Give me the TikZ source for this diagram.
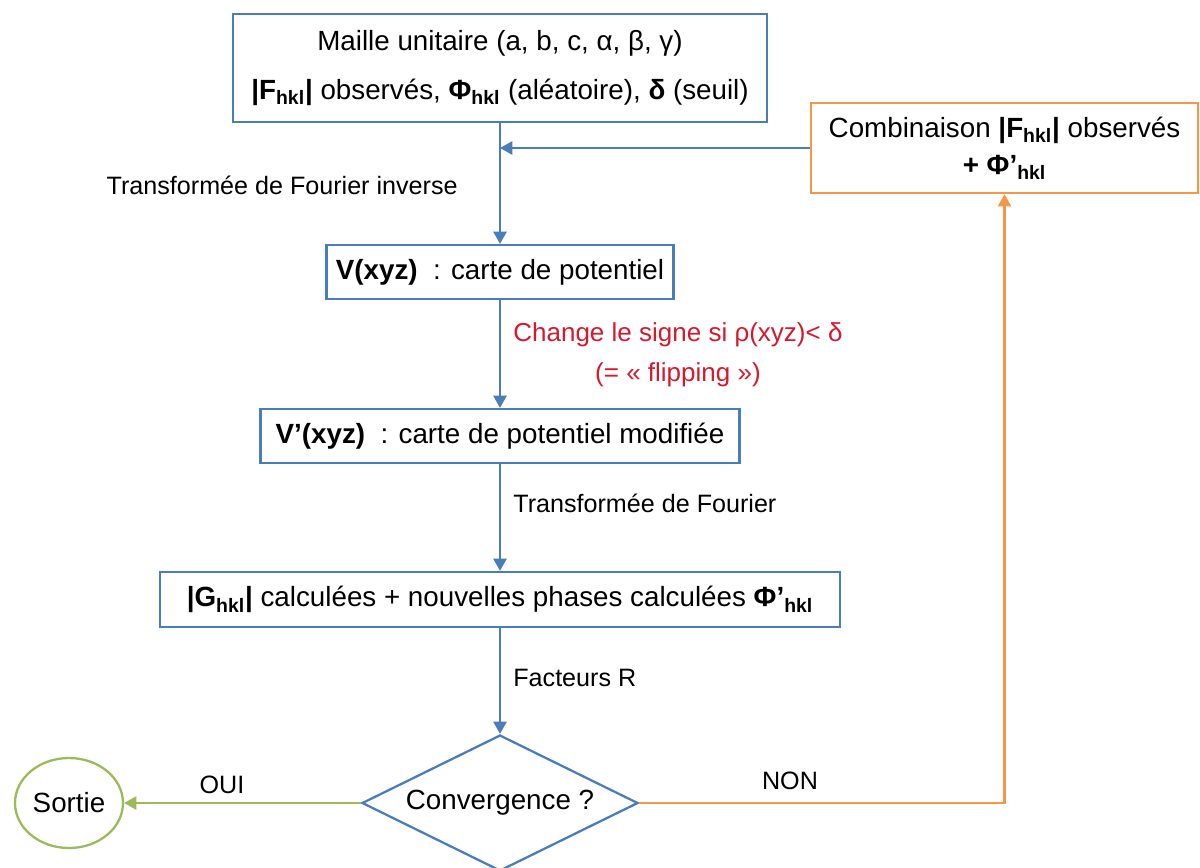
\documentclass[tikz,border=0pt]{standalone}
\usepackage{fontspec}
\setmainfont{Liberation Sans}
\usetikzlibrary{arrows.meta,shapes.geometric}
\definecolor{boxblue}{RGB}{74,126,187}
\definecolor{loopor}{RGB}{247,150,70}
\definecolor{exitgreen}{RGB}{155,187,89}
\definecolor{flipred}{RGB}{215,25,45}

\begin{document}
\begin{tikzpicture}[
		boite/.style={draw=boxblue,line width=1.3pt,inner sep=0pt,align=center,font=\fontsize{15.8}{19}\selectfont},
		fleche/.style={-{Triangle[width=7.5pt,length=7pt]},line width=1.3pt},
		etiq/.style={inner sep=0pt,font=\fontsize{14.3}{17}\selectfont}]
		\useasboundingbox (0,0) rectangle (24,-17.34);
		% boites
		\node[boite,minimum width=10.68cm,minimum height=2.16cm] (maille) at (10,-1.36) {Maille unitaire (a, b, c, α, β, γ)\\[9pt]\textbf{|F\textsubscript{hkl}|} observés, \textbf{Φ\textsubscript{hkl}} (aléatoire), \textbf{δ} (seuil)};
		\node[boite,draw=loopor,minimum width=7.74cm,minimum height=1.8cm,font=\fontsize{15.8}{21}\selectfont] (comb) at (20.09,-2.96) {Combinaison \textbf{|F\textsubscript{hkl}|} observés\\\textbf{+ Φ’\textsubscript{hkl}}};
		\node[boite,minimum width=6.94cm,minimum height=1.08cm] (vxyz) at (10,-5.44) {\textbf{V(xyz)}~ : carte de potentiel};
		\node[boite,minimum width=9.58cm,minimum height=1.08cm] (vmod) at (10,-8.72) {\textbf{V’(xyz)}~ : carte de potentiel modifiée};
		\node[boite,minimum width=13.6cm,minimum height=1.1cm] (ghkl) at (10,-11.99) {\textbf{|G\textsubscript{hkl}|} calculées + nouvelles phases calculées \textbf{Φ’\textsubscript{hkl}}};
		\node[boite,shape=diamond,aspect=2.03,minimum width=5.52cm,minimum height=2.72cm] (conv) at (10,-16.06) {Convergence ?};
		\node[boite,draw=exitgreen,shape=ellipse,minimum width=2.16cm,minimum height=1.8cm] (sortie) at (1.38,-16.06) {Sortie};
		\coordinate (jonction) at (maille.south |- comb.west);
		% fleches
		\draw[fleche,color=boxblue] (maille.south) -- (vxyz.north);
		\draw[fleche,color=boxblue] (comb.west) -- (jonction);
		\draw[fleche,color=boxblue] (vxyz.south) -- (vmod.north);
		\draw[fleche,color=boxblue] (vmod.south) -- (ghkl.north);
		\draw[fleche,color=boxblue] (ghkl.south) -- (conv.north);
		\draw[fleche,color=exitgreen] (conv.west) -- (sortie.east);
		\draw[fleche,color=loopor] (conv.east) -| (comb.south);
		% etiquettes
		\node[etiq,anchor=east] (tfinv) at (9.16,-3.7) {Transformée de Fourier inverse};
		\node[etiq,anchor=west,align=center,text=flipred,font=\fontsize{14.8}{22.5}\selectfont] (flip) at (10.26,-7.1) {Change le signe si ρ(xyz)< δ\\(= « flipping »)};
		\node[etiq,anchor=west] (tf) at (10.26,-10.06) {Transformée de Fourier};
		\node[etiq,anchor=west] (facteurs) at (10.26,-13.56) {Facteurs R};
		\node[etiq] (oui) at (4.44,-15.7) {OUI};
		\node[etiq] (non) at (15.8,-15.62) {NON};
\end{tikzpicture}
\end{document}
